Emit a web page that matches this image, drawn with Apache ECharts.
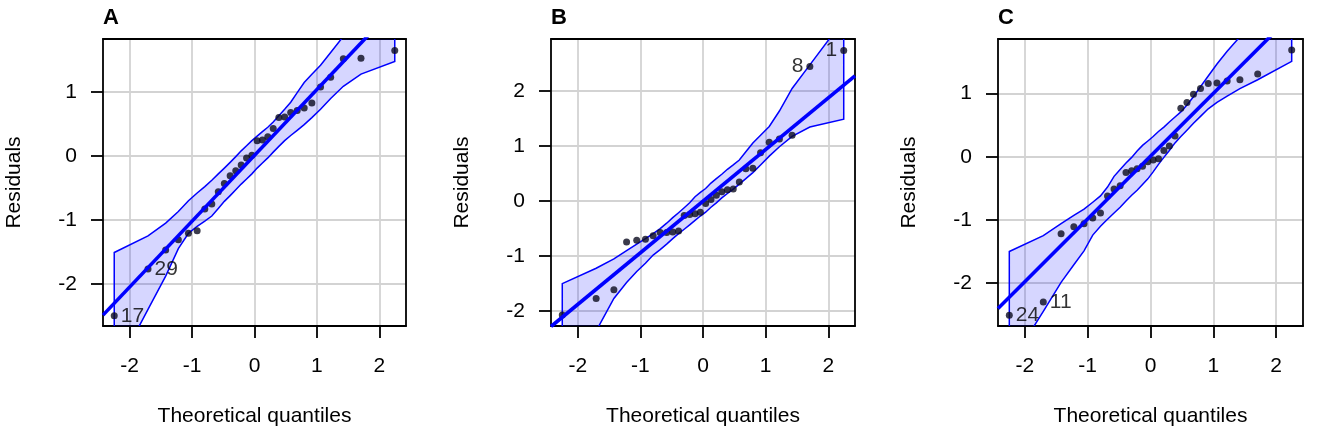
<!DOCTYPE html>
<html>
<head>
<meta charset="utf-8">
<title>QQ plots</title>
<script src="https://cdn.jsdelivr.net/npm/echarts@6/dist/echarts.min.js"></script>
<style>
html, body { margin: 0; padding: 0; background: #fff; }
#chart { width: 1344px; height: 432px; }
</style>
</head>
<body>
<div id="chart"></div>
<script>
// theoretical quantiles (t, n = 30), shared by the three panels
var quantiles = [-2.247, -1.706, -1.423, -1.220, -1.058, -0.919, -0.796, -0.684, -0.580, -0.483,
                 -0.390, -0.300, -0.213, -0.127, -0.042, 0.042, 0.127, 0.213, 0.300, 0.390,
                 0.483, 0.580, 0.684, 0.796, 0.919, 1.058, 1.220, 1.423, 1.706, 2.247];

// sorted residuals
var residA = [-2.50, -1.77, -1.47, -1.31, -1.21, -1.17, -0.83, -0.75, -0.56, -0.43,
              -0.31, -0.23, -0.14, -0.03, 0.01, 0.24, 0.25, 0.30, 0.43, 0.60,
              0.61, 0.68, 0.71, 0.75, 0.83, 1.08, 1.23, 1.52, 1.53, 1.65];
var residB = [-2.07, -1.77, -1.61, -0.74, -0.71, -0.69, -0.63, -0.57, -0.57, -0.56,
              -0.54, -0.26, -0.24, -0.23, -0.20, -0.04, 0.03, 0.11, 0.17, 0.21,
              0.22, 0.35, 0.59, 0.60, 0.88, 1.07, 1.13, 1.20, 2.45, 2.74];
var residC = [-2.51, -2.30, -1.22, -1.11, -1.06, -0.97, -0.89, -0.62, -0.51, -0.46,
              -0.25, -0.22, -0.19, -0.15, -0.08, -0.05, -0.03, 0.10, 0.17, 0.33,
              0.77, 0.86, 0.99, 1.08, 1.16, 1.17, 1.20, 1.22, 1.31, 1.69];

// envelope bounds at each quantile
var upperA = [-1.51, -1.25, -1.05, -0.87, -0.70, -0.58, -0.48, -0.38, -0.28, -0.19,
              -0.10, -0.01, 0.08, 0.16, 0.24, 0.31, 0.38, 0.45, 0.53, 0.63,
              0.73, 0.84, 0.99, 1.15, 1.28, 1.42, 1.62, 1.87, 2.30, 3.00];
var lowerA = [-3.40, -2.40, -1.88, -1.45, -1.21, -1.10, -1.02, -0.94, -0.82, -0.71,
              -0.62, -0.53, -0.44, -0.36, -0.28, -0.19, -0.11, -0.03, 0.06, 0.15,
              0.24, 0.32, 0.40, 0.49, 0.60, 0.73, 0.90, 1.09, 1.28, 1.48];
var upperB = [-1.50, -1.22, -1.05, -0.90, -0.78, -0.68, -0.59, -0.50, -0.40, -0.30,
              -0.21, -0.12, -0.03, 0.08, 0.16, 0.23, 0.33, 0.41, 0.49, 0.58,
              0.66, 0.75, 0.90, 1.06, 1.20, 1.36, 1.64, 2.05, 2.48, 3.30];
var lowerB = [-3.30, -2.36, -1.77, -1.48, -1.28, -1.13, -0.98, -0.88, -0.78, -0.68,
              -0.59, -0.51, -0.43, -0.35, -0.27, -0.20, -0.11, -0.03, 0.06, 0.14,
              0.22, 0.31, 0.41, 0.52, 0.66, 0.82, 0.99, 1.18, 1.35, 1.49];
var upperC = [-1.50, -1.25, -1.06, -0.93, -0.83, -0.72, -0.62, -0.48, -0.31, -0.20,
              -0.10, -0.01, 0.09, 0.18, 0.25, 0.32, 0.40, 0.47, 0.55, 0.63,
              0.71, 0.82, 0.95, 1.11, 1.28, 1.47, 1.67, 1.90, 2.30, 3.00];
var lowerC = [-3.30, -2.45, -1.99, -1.71, -1.49, -1.24, -1.10, -0.99, -0.89, -0.80,
              -0.70, -0.61, -0.53, -0.44, -0.35, -0.24, -0.12, -0.01, 0.10, 0.22,
              0.32, 0.42, 0.53, 0.64, 0.76, 0.86, 0.96, 1.08, 1.22, 1.51];

// reference line: [intercept, slope]
var lineA = [0.01, 1.03];
var lineB = [0.00, 0.939];
var lineC = [0.01, 0.994];

// labelled observations: [index in sorted order, label]
var labelsA = [[0, '17'], [1, '29']];
var labelsB = [[28, '8'], [29, '1']];
var labelsC = [[0, '24'], [1, '11']];

var titles = ['A', 'B', 'C'];
var xTicks = [-2, -1, 0, 1, 2];
var yTicksA = [-2, -1, 0, 1];
var yTicksB = [-2, -1, 0, 1, 2];
var yTicksC = [-2, -1, 0, 1];
var xRange = [-2.427, 2.427];
var yRangeA = [-2.66, 1.83];
var yRangeB = [-2.27, 2.95];
var yRangeC = [-2.68, 1.865];

var font = 'Liberation Sans, Arial, sans-serif';
var chart = echarts.init(document.getElementById('chart'));

var panels = [
    { resid: residA, up: upperA, lo: lowerA, line: lineA, labels: labelsA, yTicks: yTicksA, yRange: yRangeA, labelPos: 'right', grid: { left: 103, top: 39, width: 303, height: 288 } },
    { resid: residB, up: upperB, lo: lowerB, line: lineB, labels: labelsB, yTicks: yTicksB, yRange: yRangeB, labelPos: 'left', grid: { left: 551, top: 39, width: 304, height: 288 } },
    { resid: residC, up: upperC, lo: lowerC, line: lineC, labels: labelsC, yTicks: yTicksC, yRange: yRangeC, labelPos: 'right', grid: { left: 998, top: 39, width: 305, height: 288 } }
];

function bandRenderer(up, lo) {
    return function (params, api) {
        var pts = [];
        for (var i = 0; i < quantiles.length; i++) pts.push(api.coord([quantiles[i], up[i]]));
        for (var j = quantiles.length - 1; j >= 0; j--) pts.push(api.coord([quantiles[j], lo[j]]));
        var cs = params.coordSys;
        return {
            type: 'polygon',
            shape: { points: pts },
            style: { fill: 'rgba(0,0,255,0.16)', stroke: '#0000ff', lineWidth: 1.5 },
            clipPath: { type: 'rect', shape: { x: cs.x, y: cs.y, width: cs.width, height: cs.height } }
        };
    };
}

var option = {
    animation: false,
    backgroundColor: '#fff',
    textStyle: { fontFamily: font },
    title: [],
    grid: [],
    xAxis: [],
    yAxis: [],
    series: []
};

panels.forEach(function (p, i) {
    option.title.push({
        text: titles[i], left: p.grid.left, top: 7, padding: 0,
        textStyle: { fontSize: 22, fontWeight: 'bold', color: '#000', fontFamily: font }
    });
    option.grid.push({
        left: p.grid.left, top: p.grid.top, width: p.grid.width, height: p.grid.height,
        show: false
    });

    // bottom axis with ticks, labels and grid lines
    option.xAxis.push({
        type: 'value', gridIndex: i, position: 'bottom', min: xRange[0], max: xRange[1],
        name: 'Theoretical quantiles', nameLocation: 'middle', nameGap: 80,
        nameTextStyle: { fontSize: 21, color: '#000', fontFamily: font },
        axisLine: { show: true, onZero: false, lineStyle: { color: '#000', width: 1.8 } },
        axisTick: { show: true, length: 12, customValues: xTicks, lineStyle: { color: '#000', width: 1.8 } },
        axisLabel: { customValues: xTicks, margin: 30, fontSize: 21, color: '#000', fontFamily: font },
        splitLine: { show: true, lineStyle: { color: '#d3d3d3', width: 1.8 } }
    });
    // top frame
    option.xAxis.push({
        type: 'value', gridIndex: i, position: 'top', min: xRange[0], max: xRange[1],
        axisLine: { show: true, onZero: false, lineStyle: { color: '#000', width: 1.8 } },
        axisTick: { show: false }, axisLabel: { show: false }, splitLine: { show: false }
    });
    option.yAxis.push({
        type: 'value', gridIndex: i, position: 'left', min: p.yRange[0], max: p.yRange[1],
        name: 'Residuals', nameLocation: 'middle', nameGap: 78,
        nameTextStyle: { fontSize: 21, color: '#000', fontFamily: font },
        axisLine: { show: true, onZero: false, lineStyle: { color: '#000', width: 1.8 } },
        axisTick: { show: true, length: 12, customValues: p.yTicks, lineStyle: { color: '#000', width: 1.8 } },
        axisLabel: { customValues: p.yTicks, margin: 26, fontSize: 21, color: '#000', fontFamily: font },
        splitLine: { show: true, lineStyle: { color: '#d3d3d3', width: 1.8 } }
    });
    // right frame
    option.yAxis.push({
        type: 'value', gridIndex: i, position: 'right', min: p.yRange[0], max: p.yRange[1],
        axisLine: { show: true, onZero: false, lineStyle: { color: '#000', width: 1.8 } },
        axisTick: { show: false }, axisLabel: { show: false }, splitLine: { show: false }
    });

    var labelMap = {};
    p.labels.forEach(function (l) { labelMap[l[0]] = l[1]; });
    var pts = p.resid.map(function (v, k) {
        var d = { value: [quantiles[k], v] };
        if (labelMap[k] !== undefined) {
            d.label = {
                show: true, formatter: labelMap[k], position: p.labelPos, distance: 3,
                fontSize: 21, color: '#000', fontFamily: font
            };
        }
        return d;
    });

    option.series.push({
        type: 'custom', xAxisIndex: 2 * i, yAxisIndex: 2 * i, z: 2,
        renderItem: bandRenderer(p.up, p.lo),
        data: [[0, 0]],
        silent: true
    });
    option.series.push({
        type: 'scatter', xAxisIndex: 2 * i, yAxisIndex: 2 * i, z: 3,
        symbol: 'circle', symbolSize: 7,
        itemStyle: { color: '#0a0a1e' },
        data: pts
    });
    option.series.push({
        type: 'line', xAxisIndex: 2 * i, yAxisIndex: 2 * i, z: 4,
        showSymbol: false, silent: true,
        lineStyle: { color: '#0000ff', width: 3.6 },
        data: [
            [xRange[0], p.line[0] + p.line[1] * xRange[0]],
            [xRange[1], p.line[0] + p.line[1] * xRange[1]]
        ]
    });
});

chart.setOption(option);
</script>
</body>
</html>
